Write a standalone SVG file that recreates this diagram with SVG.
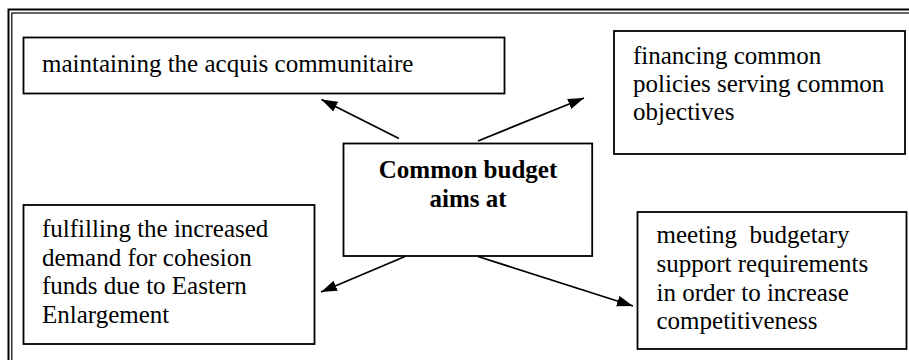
<svg xmlns="http://www.w3.org/2000/svg" width="909" height="360" viewBox="0 0 909 360">
  <style>
    .box { fill: #ffffff; stroke: #000000; stroke-width: 1.8; }
    .frame { fill: none; stroke: #000000; }
    .t { font-family: "Liberation Serif", "Times New Roman", serif; font-size: 25px; fill: #000000; white-space: pre; }
    .b { font-weight: bold; text-anchor: middle; }
    .conn { stroke: #000000; stroke-width: 1.8; fill: none; marker-end: url(#arrow); }
  </style>
  <defs>
    <marker id="arrow" markerUnits="userSpaceOnUse" markerWidth="17" markerHeight="12" refX="16" refY="5.5" orient="auto">
      <path d="M0,0 L16,5.5 L0,11 z" fill="#000000"/>
    </marker>
  </defs>
  <rect width="909" height="360" fill="#ffffff"/>
  <g id="frame">
    <rect class="frame" x="8.5" y="9.5" width="960" height="420" stroke-width="2"/>
    <rect class="frame" x="11.8" y="13" width="960" height="420" stroke-width="1.2"/>
  </g>
  <g id="connectors">
    <line class="conn" x1="399" y1="138.5" x2="321.5" y2="99.5"/>
    <line class="conn" x1="478" y1="141" x2="584" y2="98"/>
    <line class="conn" x1="405" y1="256.5" x2="321" y2="292"/>
    <line class="conn" x1="478" y1="256.5" x2="633" y2="306"/>
  </g>
  <g id="box-acquis">
    <rect class="box" x="23.5" y="37.5" width="481" height="56"/>
    <text class="t" x="42" y="71.5">maintaining the acquis communitaire</text>
  </g>
  <g id="box-financing">
    <rect class="box" x="614" y="31" width="291" height="123"/>
    <text class="t" x="633" y="64">financing common</text>
    <text class="t" x="633" y="92">policies serving common</text>
    <text class="t" x="633" y="120">objectives</text>
  </g>
  <g id="box-center">
    <rect class="box" x="343.5" y="143.5" width="248.7" height="112.5"/>
    <text class="t b" x="468" y="178.3">Common budget</text>
    <text class="t b" x="468" y="206.7">aims at</text>
  </g>
  <g id="box-cohesion">
    <rect class="box" x="23.5" y="205" width="291" height="139"/>
    <text class="t" x="42" y="237">fulfilling the increased</text>
    <text class="t" x="42" y="265.5">demand for cohesion</text>
    <text class="t" x="42" y="294">funds due to Eastern</text>
    <text class="t" x="42" y="322.5">Enlargement</text>
  </g>
  <g id="box-competitiveness">
    <rect class="box" x="637.5" y="212" width="269" height="137"/>
    <text class="t" x="656.5" y="243.3">meeting  budgetary</text>
    <text class="t" x="656.5" y="272">support requirements</text>
    <text class="t" x="656.5" y="300.5">in order to increase</text>
    <text class="t" x="656.5" y="329">competitiveness</text>
  </g>
</svg>
